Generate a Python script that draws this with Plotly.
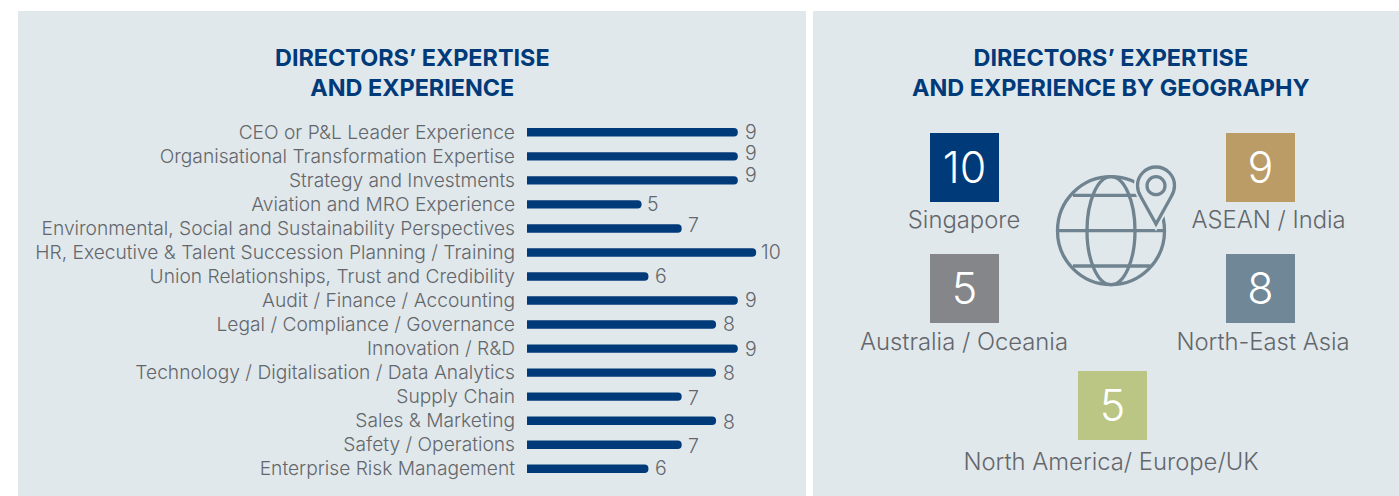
import plotly.graph_objects as go

# ---------- data ----------
categories = [
    "CEO or P&L Leader Experience", "Organisational Transformation Expertise",
    "Strategy and Investments", "Aviation and MRO Experience",
    "Environmental, Social and Sustainability Perspectives",
    "HR, Executive & Talent Succession Planning / Training",
    "Union Relationships, Trust and Credibility", "Audit / Finance / Accounting",
    "Legal / Compliance / Governance", "Innovation / R&D",
    "Technology / Digitalisation / Data Analytics", "Supply Chain",
    "Sales & Marketing", "Safety / Operations", "Enterprise Risk Management",
]
value_labels = [9, 9, 9, 5, 7, 10, 6, 9, 8, 9, 8, 7, 8, 7, 6]
# bar lengths as drawn in the picture (the drawn scale is not quite linear)
bar_lengths = [9.2, 9.2, 9.2, 5.0, 6.75, 10.0, 5.3, 9.2, 8.25, 9.2, 8.25, 6.75, 8.25, 6.75, 5.3]
regions = ["Singapore", "ASEAN / India", "Australia / Oceania", "North-East Asia", "North America/ Europe/UK"]
region_values = [10, 9, 5, 8, 5]

# ---------- layout-only arrays ----------
label_xshift = [5, 5, 5, 3, 4, 3, 5, 5, 5, 5, 5, 4, 5, 4, 5]
label_yshift = [0, 3, 5, 0, 3, 0, 1, 1, 1, 0, 0, -1, -1, -1, 1]
tile_x = [964.5, 1260.5, 964.5, 1260.5, 1112.5]
tile_y = [167.5, 167.5, 288.5, 288.5, 405.5]
digit_y = [172.5, 172.5, 293, 293, 410]
name_x = [964, 1268.5, 964, 1263, 1111]
name_y = [222, 222, 344, 344, 464]
tile_colors = ["#003a79", "#bb9b66", "#858689", "#6f8797", "#bbc684"]

W, H = 1399, 496
PANEL = "#e1e8ec"
NAVY = "#003a79"
GREY = "#63676b"
ICON = "#6f8490"
BODY = "Inter"

fig = go.Figure()

# bars
fig.add_trace(go.Bar(
    x=bar_lengths, y=categories, orientation="h",
    marker=dict(color=NAVY, cornerradius=4, line_width=0),
    hoverinfo="skip", xaxis="x", yaxis="y",
))

# region tiles
fig.add_trace(go.Scatter(
    x=tile_x, y=tile_y, xaxis="x2", yaxis="y2", mode="markers",
    marker=dict(symbol="square", size=69, color=tile_colors, line_width=0),
    hoverinfo="skip", cliponaxis=False,
))
fig.add_trace(go.Scatter(
    x=tile_x, y=digit_y, xaxis="x2", yaxis="y2", mode="text",
    text=[str(v) for v in region_values], textposition="middle center",
    textfont=dict(family=BODY, size=43, color="white", weight=300),
    hoverinfo="skip", cliponaxis=False,
))
# region names
fig.add_trace(go.Scatter(
    x=name_x, y=name_y, xaxis="x2", yaxis="y2", mode="text",
    text=regions, textposition="middle center",
    textfont=dict(family=BODY, size=23.8, color=GREY, weight=300),
    hoverinfo="skip", cliponaxis=False,
))

def panel(x0, x1):
    return dict(type="rect", xref="paper", yref="paper", x0=x0/W, x1=x1/W, y0=0, y1=1-11/H,
                fillcolor=PANEL, line_width=0, layer="below")

def ring(cx, cy, rx, ry, w=3.3):
    return dict(type="circle", xref="x2", yref="y2", x0=cx-rx, x1=cx+rx, y0=cy-ry, y1=cy+ry,
                line=dict(color=ICON, width=w), fillcolor="rgba(0,0,0,0)")

def hline(x0, x1, y, w=3.3):
    return dict(type="line", xref="x2", yref="y2", x0=x0, x1=x1, y0=y, y1=y,
                line=dict(color=ICON, width=w))

PIN = ("M 1156 224 L 1141 197 C 1138 192 1137.5 189 1137.5 185.5 "
       "C 1137.5 175 1146 167 1156 167 C 1166 167 1174.5 175 1174.5 185.5 "
       "C 1174.5 189 1174 192 1171 197 Z")

shapes = [
    panel(18, 806), panel(813, 1399),
    ring(1111, 230.7, 53.5, 54), ring(1111, 230.7, 24, 54),
    hline(1073, 1140, 195.3), hline(1058, 1165, 230.7), hline(1073, 1150, 266),
    dict(type="path", xref="x2", yref="y2", path=PIN, fillcolor=PANEL,
         line=dict(color=PANEL, width=7)),
    dict(type="path", xref="x2", yref="y2", path=PIN, fillcolor=PANEL,
         line=dict(color=ICON, width=3.3)),
    ring(1156, 185.7, 9, 9),
]

annotations = []
for cat, length, lab, dx, dy in zip(categories, bar_lengths, value_labels, label_xshift, label_yshift):
    annotations.append(dict(
        x=length, y=cat, xref="x", yref="y", text=str(lab), showarrow=False,
        xanchor="left", yanchor="middle", xshift=dx, yshift=dy,
        font=dict(family=BODY, size=19.5, color=GREY, weight=300),
    ))
for x, title in [(412, "DIRECTORS’ EXPERTISE<br>AND EXPERIENCE"),
                 (1111, "DIRECTORS’ EXPERTISE<br>AND EXPERIENCE BY GEOGRAPHY")]:
    annotations.append(dict(
        x=x, y=72, xref="x2", yref="y2", text=title, showarrow=False, align="center",
        xanchor="center", yanchor="middle",
        font=dict(family=BODY, size=23.4, color=NAVY, weight=700),
    ))

fig.update_layout(
    width=W, height=H, margin=dict(l=0, r=0, t=0, b=0, pad=0),
    paper_bgcolor="white", plot_bgcolor="rgba(0,0,0,0)",
    showlegend=False, bargap=0.65, shapes=shapes, annotations=annotations,
    xaxis=dict(domain=[527/W, 802/W], range=[0, 12], visible=False, fixedrange=True),
    yaxis=dict(domain=[1-(120.3+15*24.03)/H, 1-120.3/H], type="category",
               categoryorder="array", categoryarray=categories, range=[14.5, -0.5],
               showline=False, showgrid=False, zeroline=False, ticks="", ticklabelstandoff=11,
               tickfont=dict(family=BODY, size=19.2, color=GREY, weight=300), anchor="x"),
    xaxis2=dict(domain=[0, 1], range=[0, W], visible=False, fixedrange=True, anchor="y2"),
    yaxis2=dict(domain=[0, 1], range=[H, 0], visible=False, fixedrange=True, anchor="x2"),
)
fig.write_html("out.html", config=dict(displayModeBar=False),
               post_script="document.body.style.margin='0';document.documentElement.style.overflow='hidden';")
